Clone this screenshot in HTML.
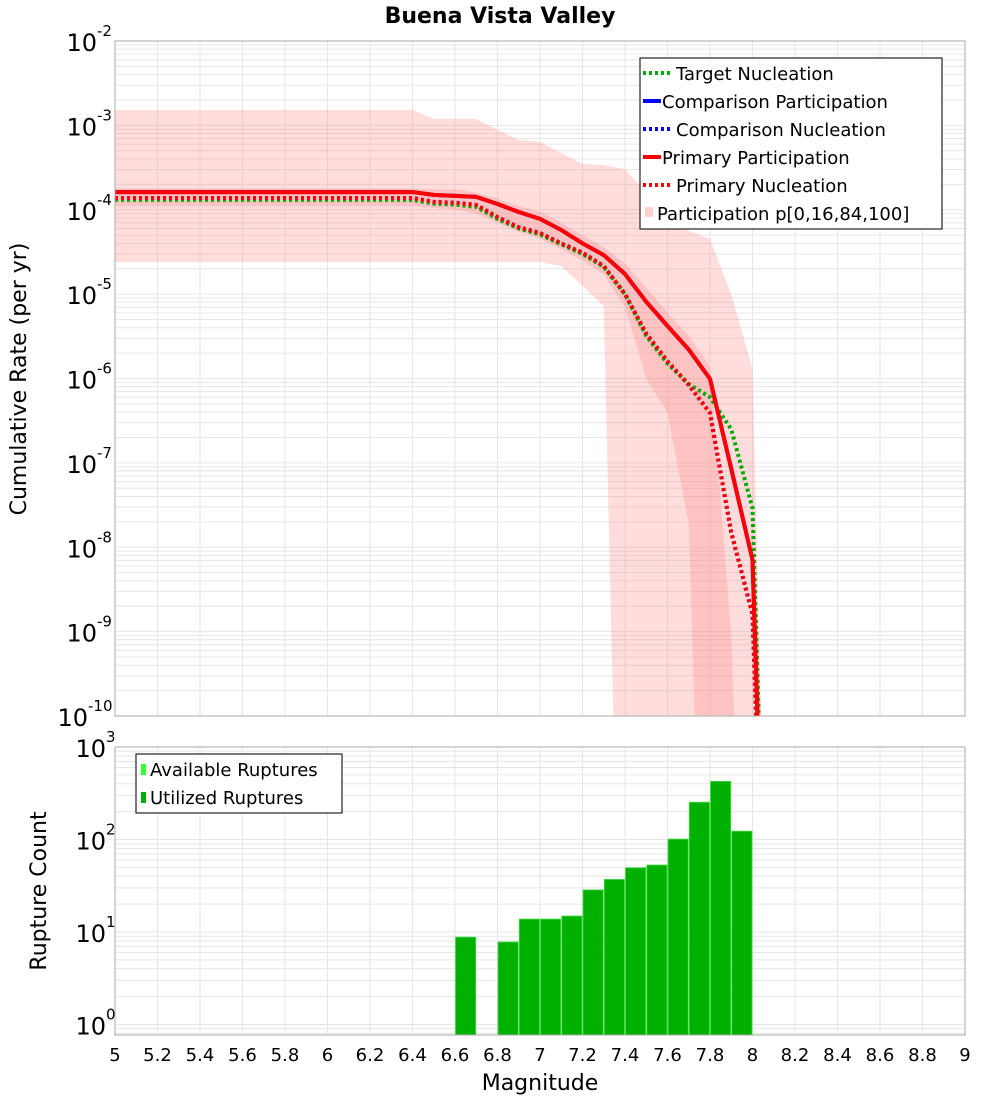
<!DOCTYPE html>
<html><head><meta charset="utf-8">
<style>
html,body{margin:0;padding:0;background:#fff;}
svg{display:block;font-family:"DejaVu Sans","Liberation Sans",sans-serif;}
</style></head>
<body>
<div style="position:relative;width:1000px;height:1100px;">
<svg id="chart" width="1000" height="1100" xmlns="http://www.w3.org/2000/svg" style="position:absolute;left:0;top:0;">
<text x="500" y="23" text-anchor="middle" font-size="22" font-weight="bold">Buena Vista Valley</text>
<g id="topg"></g>
<g id="botg"></g>
</svg>
<svg width="1000" height="1100" xmlns="http://www.w3.org/2000/svg" style="position:absolute;left:0;top:0;pointer-events:none;">
  <text transform="translate(26,379) rotate(-90)" text-anchor="middle" font-size="22">Cumulative Rate (per yr)</text>
  <text transform="translate(46,891) rotate(-90)" text-anchor="middle" font-size="22">Rupture Count</text>
  <text x="540" y="1090" text-anchor="middle" font-size="22">Magnitude</text>
  <g font-size="18">
    <rect x="640" y="58" width="302" height="171" fill="#fff" stroke="#222" stroke-width="1.2"/>
    <line x1="643" x2="671" y1="73" y2="73" stroke="#00aa00" stroke-width="4" stroke-dasharray="3,3"/>
    <text x="676" y="80">Target Nucleation</text>
    <line x1="643" x2="661" y1="101" y2="101" stroke="#0000ff" stroke-width="4"/>
    <text x="662" y="108">Comparison Participation</text>
    <line x1="643" x2="671" y1="129" y2="129" stroke="#0000ff" stroke-width="4" stroke-dasharray="3,3"/>
    <text x="676" y="136">Comparison Nucleation</text>
    <line x1="643" x2="661" y1="157" y2="157" stroke="#ff0000" stroke-width="4"/>
    <text x="662" y="164">Primary Participation</text>
    <line x1="643" x2="671" y1="185" y2="185" stroke="#ff0000" stroke-width="4" stroke-dasharray="3,3"/>
    <text x="676" y="192">Primary Nucleation</text>
    <rect x="645" y="207" width="8" height="10" fill="#ffd0d0"/>
    <text x="657" y="220">Participation p[0,16,84,100]</text>
  </g>
  <g font-size="18">
    <rect x="136" y="754" width="206" height="59" fill="#fff" stroke="#222" stroke-width="1.2"/>
    <rect x="141" y="764" width="5" height="11" fill="#33ff33"/>
    <text x="150" y="776">Available Ruptures</text>
    <rect x="141" y="792" width="5" height="11" fill="#00b000"/>
    <text x="150" y="804">Utilized Ruptures</text>
  </g>
</svg>
</div>
<script>
// ---- data ----
const mags = [5.0,5.1,5.2,5.3,5.4,5.5,5.6,5.7,5.8,5.9,6.0,6.1,6.2,6.3,6.4,6.5,6.6,6.7,6.8,6.9,7.0,7.1,7.2,7.3,7.4,7.5,7.6,7.7,7.8,7.9,8.0,8.1];
const ZERO = 1e-16;
const primaryPart = [1.62e-4,1.62e-4,1.62e-4,1.62e-4,1.62e-4,1.62e-4,1.62e-4,1.62e-4,1.62e-4,1.62e-4,1.62e-4,1.62e-4,1.62e-4,1.62e-4,1.62e-4,1.50e-4,1.46e-4,1.42e-4,1.17e-4,9.4e-5,7.8e-5,5.75e-5,4.0e-5,2.9e-5,1.73e-5,8.1e-6,4.2e-6,2.2e-6,9.9e-7,8.5e-8,7.1e-9,ZERO];
const primaryNucl = [1.38e-4,1.38e-4,1.38e-4,1.38e-4,1.38e-4,1.38e-4,1.38e-4,1.38e-4,1.38e-4,1.38e-4,1.38e-4,1.38e-4,1.38e-4,1.38e-4,1.38e-4,1.24e-4,1.21e-4,1.14e-4,8.2e-5,6.2e-5,5.3e-5,4.0e-5,3.1e-5,2.15e-5,1.0e-5,3.4e-6,1.6e-6,8.4e-7,3.9e-7,1.5e-8,1.6e-9,ZERO];
const comparisonPart = primaryPart.slice();
const comparisonNucl = primaryNucl.slice();
const targetNucl = [1.31e-4,1.31e-4,1.31e-4,1.31e-4,1.31e-4,1.31e-4,1.31e-4,1.31e-4,1.31e-4,1.31e-4,1.31e-4,1.31e-4,1.31e-4,1.31e-4,1.31e-4,1.18e-4,1.15e-4,1.08e-4,7.8e-5,6.0e-5,5.1e-5,3.9e-5,3.0e-5,2.1e-5,1.0e-5,3.2e-6,1.5e-6,8.6e-7,6.0e-7,2.5e-7,2.9e-8,ZERO];
const p0 = [2.4e-5,2.4e-5,2.4e-5,2.4e-5,2.4e-5,2.4e-5,2.4e-5,2.4e-5,2.4e-5,2.4e-5,2.4e-5,2.4e-5,2.4e-5,2.4e-5,2.4e-5,2.4e-5,2.4e-5,2.4e-5,2.4e-5,2.4e-5,2.4e-5,2.15e-5,1.25e-5,7.2e-6,ZERO,ZERO,ZERO,ZERO,ZERO,ZERO,ZERO,ZERO];
const p100 = [1.52e-3,1.52e-3,1.52e-3,1.52e-3,1.52e-3,1.52e-3,1.52e-3,1.52e-3,1.52e-3,1.52e-3,1.52e-3,1.52e-3,1.52e-3,1.52e-3,1.52e-3,1.2e-3,1.2e-3,1.2e-3,8.8e-4,6.7e-4,6.4e-4,4.7e-4,3.5e-4,3.4e-4,3.0e-4,1.65e-4,8.6e-5,5.6e-5,4.5e-5,1.0e-5,1.3e-6,ZERO];
const p16 = [1.1e-4,1.1e-4,1.1e-4,1.1e-4,1.1e-4,1.1e-4,1.1e-4,1.1e-4,1.1e-4,1.1e-4,1.1e-4,1.1e-4,1.1e-4,1.1e-4,1.1e-4,1.05e-4,1.0e-4,9e-5,7e-5,5.5e-5,4.6e-5,3.4e-5,2.5e-5,1.7e-5,7e-6,1.0e-6,3.9e-7,1.9e-8,ZERO,ZERO,ZERO,ZERO];
const p84 = [1.8e-4,1.8e-4,1.8e-4,1.8e-4,1.8e-4,1.8e-4,1.8e-4,1.8e-4,1.8e-4,1.8e-4,1.8e-4,1.8e-4,1.8e-4,1.8e-4,1.8e-4,1.75e-4,1.75e-4,1.6e-4,1.35e-4,1.1e-4,9.5e-5,7e-5,5e-5,3.6e-5,2.3e-5,1.2e-5,6e-6,3.2e-6,1.4e-6,9e-10,ZERO,ZERO];
const barMags = [6.65,6.85,6.95,7.05,7.15,7.25,7.35,7.45,7.55,7.65,7.75,7.85,7.95];
const barCounts = [8.8,7.8,13.8,13.8,14.9,28.5,37,49.5,53,101,253,425,123];
const xTicks = [5,5.2,5.4,5.6,5.8,6,6.2,6.4,6.6,6.8,7,7.2,7.4,7.6,7.8,8,8.2,8.4,8.6,8.8,9];
const topYTicks = [-2,-3,-4,-5,-6,-7,-8,-9,-10];
const botYTicks = [3,2,1,0];

// ---- scales ----
const X0=115,X1=965;
const xs = m => X0 + (m-5)/(9-5)*(X1-X0);
const TY0=41,TY1=716;
const ty = v => TY0 + (-2 - Math.log10(v))/8*(TY1-TY0);
const BY0=747,BY1=1035,BDEC=92.5;
const by = v => BY0 + (3 - Math.log10(v))*BDEC;
const NS="http://www.w3.org/2000/svg";
function mk(parent,tag,attrs){const e=document.createElementNS(NS,tag);for(const k in attrs)e.setAttribute(k,attrs[k]);parent.appendChild(e);return e;}

const gTop=document.getElementById('topg'), gBot=document.getElementById('botg');
const svgEl=document.getElementById('chart');
const defs=mk(svgEl,'defs',{});
const c1=mk(defs,'clipPath',{id:'ctop'});mk(c1,'rect',{x:X0,y:TY0,width:X1-X0,height:TY1-TY0});
const c2=mk(defs,'clipPath',{id:'cbot'});mk(c2,'rect',{x:X0,y:BY0,width:X1-X0,height:BY1-BY0});

function grid(g,yTop,yBot,yfun,decLo,decHi){
  for(let d=decLo; d<decHi; d++){
    for(let k=1;k<10;k++){
      const y=yfun(k*Math.pow(10,d));
      if(y<yTop-0.5||y>yBot+0.5)continue;
      const l=mk(g,'line',{x1:X0,x2:X1,y1:y,y2:y,stroke:'#e6e6e6','stroke-width':1});
      
      
    }
  }
  xTicks.forEach(t=>{
    const l=mk(g,'line',{x1:xs(t),x2:xs(t),y1:yTop,y2:yBot,stroke:'#e6e6e6','stroke-width':1});
    
    
  });
}
grid(gTop,TY0,TY1,ty,-10,-2);
grid(gBot,BY0,BY1,by,-1,3);

const gt=mk(gTop,'g',{'clip-path':'url(#ctop)'});
function clipv(v){return Math.max(v,1e-16);}
function band(lo,hi,fill,name){
  let d='';
  mags.forEach((m,i)=>{d+=(i?'L':'M')+xs(m)+','+ty(clipv(hi[i]));});
  for(let i=mags.length-1;i>=0;i--) d+='L'+xs(mags[i])+','+ty(clipv(lo[i]));
  const p=mk(gt,'path',{d:d+'Z',fill:fill});
  
  
}
band(p0,p100,'rgba(255,120,120,0.25)','band-p0-p100');
band(p16,p84,'rgba(255,120,120,0.25)','band-p16-p84');
function line(vals,color,dash,w,name){
  const pts=mags.map((m,i)=>xs(m)+','+ty(clipv(vals[i]))).join(' ');
  const a={points:pts,fill:'none',stroke:color,'stroke-width':w,'stroke-linejoin':'round'};
  if(dash)a['stroke-dasharray']=dash;
  const p=mk(gt,'polyline',a);
  
  
}
line(comparisonPart,'#0000ff',null,4,'comparison-participation-line');
line(comparisonNucl,'#0000ff','3,3',4,'comparison-nucleation-line');
line(targetNucl,'#00aa00','3,3',4,'target-nucleation-line');
line(primaryNucl,'#ff0000','3,3',4,'primary-nucleation-line');
line(primaryPart,'#ff0000',null,4,'primary-participation-line');

mk(gTop,'rect',{x:X0,y:TY0,width:X1-X0,height:TY1-TY0,fill:'none',stroke:'#aaaaaa','stroke-width':1});

function ylab(g,y,exp,name){
  const s=String(exp);
  const t=mk(g,'text',{x:115 - s.length*9,y:y+10,'text-anchor':'end','font-size':24});
  
  
  t.textContent='10';
  const sup=mk(g,'text',{x:115 - s.length*9,y:y-5,'text-anchor':'start','font-size':15});
  
  
  sup.textContent=s;
}
topYTicks.forEach(e=>ylab(gTop,ty(Math.pow(10,e)),e,'top-y-tick-label'));
botYTicks.forEach(e=>ylab(gBot,by(Math.pow(10,e)),e,'bottom-y-tick-label'));

const gb=mk(gBot,'g',{'clip-path':'url(#cbot)'});
barMags.forEach((m,i)=>{
  const x=xs(m-0.05), w=xs(m+0.05)-xs(m-0.05);
  const y=by(barCounts[i]);
  const r=mk(gb,'rect',{x:x+0.5,y:y,width:w-1,height:BY1-y+2,fill:'#00b000',stroke:'#44dd44','stroke-width':0.8});
  
  
});
mk(gBot,'rect',{x:X0,y:BY0,width:X1-X0,height:BY1-BY0,fill:'none',stroke:'#aaaaaa','stroke-width':1});

xTicks.forEach(t=>{
  const e=mk(gBot,'text',{x:xs(t),y:1061,'text-anchor':'middle','font-size':18});
  
  
  e.textContent=String(t);
});
</script>
</body></html>
